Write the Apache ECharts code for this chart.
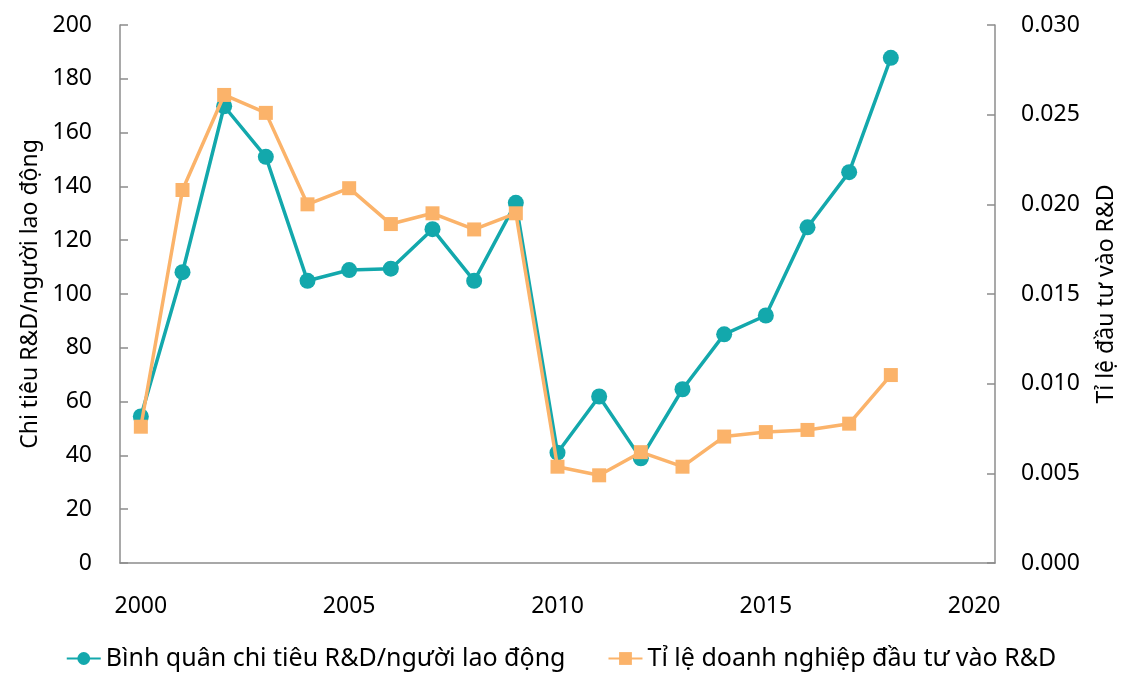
<!DOCTYPE html>
<html>
<head>
<meta charset="utf-8">
<script src="https://cdn.jsdelivr.net/npm/echarts@6/dist/echarts.min.js"></script>
<style>html,body{margin:0;padding:0;background:#fff}#c{width:1122px;height:674px}</style>
</head>
<body>
<div id="c"></div>
<script>
const years = ['2000','2001','2002','2003','2004','2005','2006','2007','2008','2009','2010','2011','2012','2013','2014','2015','2016','2017','2018','2019','2020'];
const spendPerWorker = [54.5,108.1,169.8,151.0,104.9,108.9,109.4,124.1,104.9,133.9,41.0,61.9,38.9,64.6,85.0,92.0,124.8,145.3,187.8];
const firmShare = [0.0076,0.0208,0.0261,0.0251,0.0200,0.0209,0.0189,0.0195,0.0186,0.0195,0.00537,0.00489,0.00618,0.00537,0.00705,0.00730,0.00742,0.00777,0.01048];
const seriesNames = ['Bình quân chi tiêu R&D/người lao động','Tỉ lệ doanh nghiệp đầu tư vào R&D'];
const leftTitle = 'Chi tiêu R&D/người lao động';
const rightTitle = 'Tỉ lệ đầu tư vào R&D';

const FONT = 'Noto Sans';
const teal = '#13a8ac', orange = '#fbb36a', axisCol = '#8c8c8c';
const chart = echarts.init(document.getElementById('c'));
chart.setOption({
  animation:false,
  textStyle:{fontFamily:FONT,color:'#000'},
  grid:{left:120,right:127,top:25,bottom:111,containLabel:false,outerBoundsMode:'none'},
  legend:{bottom:-2,left:'center',itemGap:42,itemWidth:34,itemHeight:16,
    textStyle:{fontFamily:FONT,fontSize:25,color:'#000'},data:seriesNames},
  xAxis:{type:'category',data:years,boundaryGap:true,
    axisLine:{lineStyle:{color:axisCol,width:1.5}},
    axisTick:{inside:true,length:9,interval:4,lineStyle:{color:axisCol,width:1.5}},
    axisLabel:{interval:4,margin:32,fontSize:23,color:'#000',fontFamily:FONT},
    splitLine:{show:false}},
  yAxis:[
    {type:'value',min:0,max:200,interval:20,name:leftTitle,nameLocation:'middle',nameGap:70,
     nameTextStyle:{fontSize:23,color:'#000',fontFamily:FONT},
     axisLine:{show:true,lineStyle:{color:axisCol,width:1.5}},
     axisTick:{show:true,inside:true,length:8,lineStyle:{color:axisCol,width:1.5}},
     axisLabel:{margin:28,fontSize:23,color:'#000',fontFamily:FONT},
     splitLine:{show:false}},
    {type:'value',min:0,max:0.03,interval:0.005,name:rightTitle,nameLocation:'middle',nameGap:100,
     nameRotate:90,
     nameTextStyle:{fontSize:23,color:'#000',fontFamily:FONT},
     axisLine:{show:true,lineStyle:{color:axisCol,width:1.5}},
     axisTick:{show:true,inside:true,length:8,lineStyle:{color:axisCol,width:1.5}},
     axisLabel:{margin:26,fontSize:23,color:'#000',fontFamily:FONT,formatter:v=>v.toFixed(3)},
     splitLine:{show:false}}
  ],
  series:[
    {name:seriesNames[0],type:'line',yAxisIndex:0,data:spendPerWorker,symbol:'circle',symbolSize:16,
     lineStyle:{color:teal,width:3.5},itemStyle:{color:teal},z:2},
    {name:seriesNames[1],type:'line',yAxisIndex:1,data:firmShare,symbol:'rect',symbolSize:14,
     lineStyle:{color:orange,width:3.5},itemStyle:{color:orange},z:3}
  ]
});
</script>
</body>
</html>
